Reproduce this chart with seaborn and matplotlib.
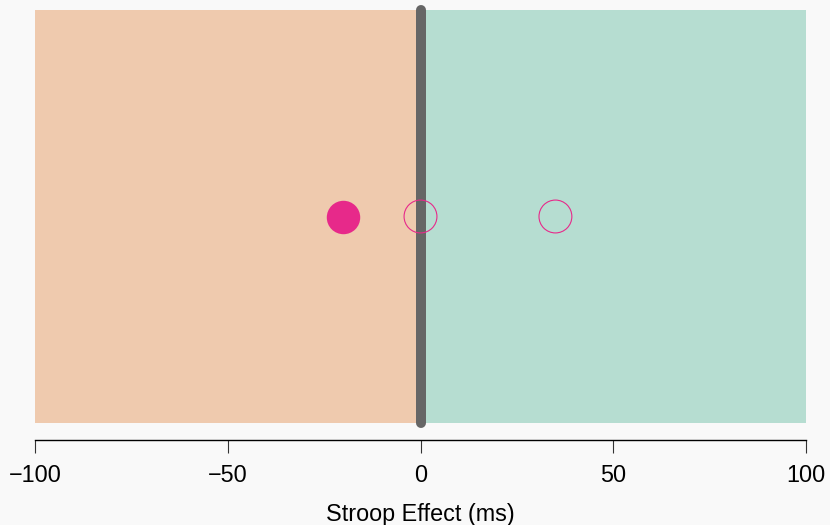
import matplotlib
matplotlib.use("Agg")
import matplotlib.pyplot as plt
import seaborn as sns
import pandas as pd

# Stroop effect estimates (ms) and whether each marker is filled
effects = [-20, 0, 35]
filled = [True, False, False]

# axis ticks and label
x_ticks = [-100, -50, 0, 50, 100]
x_tick_labels = ["\u2212100", "\u221250", "0", "50", "100"]
x_label = "Stroop Effect (ms)"

# shaded halves of the scale
regions = [(-100, 0), (0, 100)]
region_colors = ["#d95f02", "#1b9e77"]

bg = "#f9f9f9"
point_color = "#e7298a"

sns.set_theme(style="ticks")
plt.rcParams["font.family"] = ["Liberation Sans", "DejaVu Sans"]

fig = plt.figure(figsize=(8.3, 5.25), dpi=100, facecolor=bg)
ax = fig.add_axes([35 / 830, 1 - 440 / 525, (806 - 35) / 830, 430 / 525])
ax.set_facecolor(bg)

ax.set_xlim(-100, 100)
ax.set_ylim(-17 / 413, 1)

for (x0, x1), c in zip(regions, region_colors):
    ax.fill_between([x0, x1], 0, 1, color=c, alpha=0.3, linewidth=0)

# reference line at zero
ax.plot([0, 0], [0, 1], color="#666666", linewidth=7.2,
        solid_capstyle="round", clip_on=False, zorder=3)

df = pd.DataFrame({"effect": effects, "filled": filled})
df["y"] = 0.5

sns.scatterplot(data=df[df["filled"]], x="effect", y="y", ax=ax,
                s=580, color=point_color, edgecolor=point_color,
                linewidth=0, zorder=4, legend=False)
sns.scatterplot(data=df[~df["filled"]], x="effect", y="y", ax=ax,
                s=560, facecolor="none", edgecolor=point_color,
                linewidth=0.8, zorder=4, legend=False)

ax.set_xticks(x_ticks)
ax.set_xticklabels(x_tick_labels, fontsize=16.8, color="black")
ax.set_yticks([])
ax.set_xlabel(x_label, fontsize=16.8, color="black", labelpad=11)
ax.set_ylabel("")

for side in ["left", "right", "top"]:
    ax.spines[side].set_visible(False)
ax.spines["bottom"].set_color("black")
ax.spines["bottom"].set_linewidth(1.0)
ax.tick_params(axis="x", length=9.5, width=0.8, color="#333333", pad=8)

fig.savefig("out.png", dpi=100, facecolor=bg)
